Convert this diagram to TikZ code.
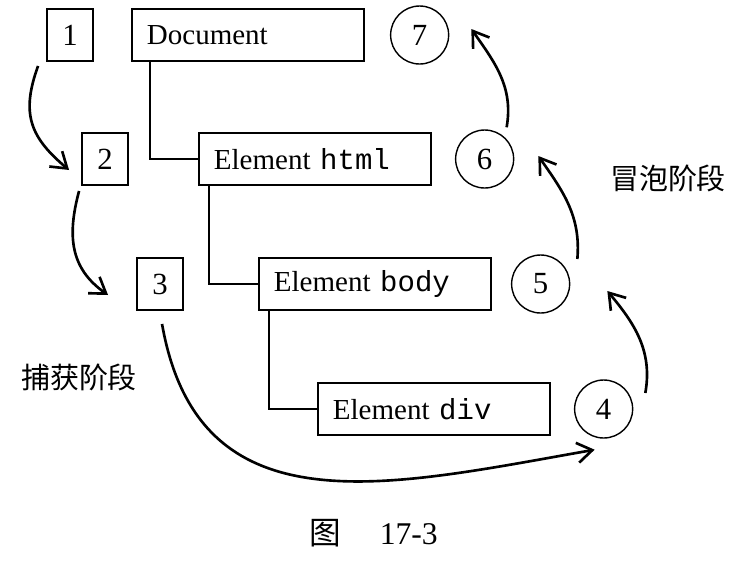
\documentclass[tikz,border=0pt]{standalone}
\usepackage{fontspec}
\setmainfont{Liberation Serif}
\setmonofont{Liberation Mono}
\newfontfamily\cjk{Noto Sans CJK SC}
\usetikzlibrary{positioning}
\usetikzlibrary{arrows.meta}

\begin{document}
\begin{tikzpicture}[
		font=\fontsize{16.5}{19}\selectfont,
		dombox/.style={rectangle, draw=black, line width=1.1pt, text width=4.04cm, inner xsep=0.3cm, inner ysep=0pt, align=left, minimum height=1.04cm},
		numbox/.style={rectangle, draw=black, line width=1.1pt, minimum width=0.92cm, minimum height=1.04cm, inner sep=0pt, font=\fontsize{17.5}{20}\selectfont},
		bubble/.style={circle, draw=black, line width=0.8pt, minimum size=1.16cm, inner sep=0pt, font=\fontsize{17.5}{20}\selectfont},
		link/.style={line width=1.5pt},
		flow/.style={-{Straight Barb[length=3mm,width=4mm]}, line width=1.5pt}
	]
		\useasboundingbox (0,0) rectangle (15,-11.28);

		% DOM tree
		\node[dombox, anchor=west] (doc) at (2.62,-0.70) {Document};
		\node[dombox, anchor=west] (html) at (3.96,-3.18) {Element \texttt{html}};
		\node[dombox, anchor=west] (body) at (5.16,-5.68) {Element \texttt{body}};
		\node[dombox, anchor=west] (div) at (6.34,-8.18) {Element \texttt{div}};

		% capture steps
		\node[numbox, left=0.74cm of doc] (n1) {1};
		\node[numbox, left=1.38cm of html] (n2) {2};
		\node[numbox, left=1.48cm of body] (n3) {3};

		% bubble steps
		\node[bubble, right=0.46cm of div] (c4) {4};
		\node[bubble, right=0.38cm of body] (c5) {5};
		\node[bubble, right=0.46cm of html] (c6) {6};
		\node[bubble, right=0.5cm of doc] (c7) {7};

		\draw[link] ([xshift=0.38cm]doc.south west) |- (html.west);
		\draw[link] ([xshift=0.22cm]html.south west) |- (body.west);
		\draw[link] ([xshift=0.22cm]body.south west) |- (div.west);

		\draw[flow] ([xshift=-0.16cm,yshift=-0.08cm]n1.south west) to[out=250,in=140,looseness=1.2] ([xshift=-0.24cm,yshift=-0.22cm]n2.west);
		\draw[flow] ([xshift=-0.04cm,yshift=-0.10cm]n2.south west) to[out=255,in=145,looseness=1.1] ([xshift=-0.56cm,yshift=-0.22cm]n3.west);
		\draw[flow] ([xshift=0.04cm,yshift=-0.26cm]n3.south) to[out=-80,in=190,looseness=1.2] ([xshift=-0.18cm,yshift=-0.22cm]c4.south);
		\draw[flow] ([xshift=0.24cm,yshift=0.32cm]c4.east) to[out=80,in=-50] ([xshift=0.74cm,yshift=-0.14cm]c5.east);
		\draw[flow] ([xshift=0.14cm,yshift=0.50cm]c5.east) to[out=85,in=-55] ([xshift=0.48cm,yshift=0.06cm]c6.east);
		\draw[flow] ([xshift=0.44cm,yshift=0.04cm]c6.north) to[out=80,in=-55] ([xshift=0.44cm,yshift=0.12cm]c7.east);

		\node (bubbling) at (13.36,-3.56) {\cjk 冒泡阶段};
		\node (capturing) at (1.58,-7.54) {\cjk 捕获阶段};
		\node[font=\fontsize{18}{21}\selectfont] (caption) at (7.47,-10.66) {{\cjk 图}\hspace{0.78cm}17-3};
	\end{tikzpicture}
\end{document}
